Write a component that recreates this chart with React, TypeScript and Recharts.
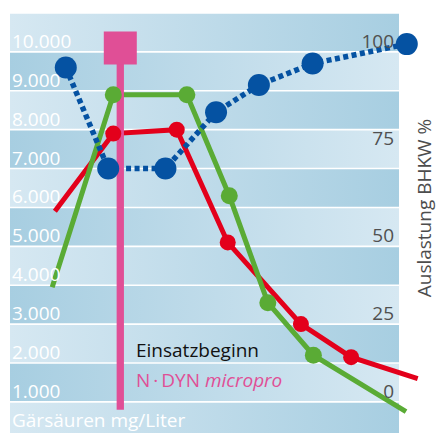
import React from 'react';
import {
  LineChart,
  Line,
  XAxis,
  YAxis,
  CartesianGrid,
  Customized,
} from 'recharts';

// ---------- data ----------
const leftTicks = [1000, 2000, 3000, 4000, 5000, 6000, 7000, 8000, 9000, 10000];
const leftTickLabels = ['1.000', '2.000', '3.000', '4.000', '5.000', '6.000', '7.000', '8.000', '9.000', '10.000'];
const rightTickValues = [1000, 3000, 5000, 7500, 10000];
const rightTickLabels = ['0', '25', '50', '75', '100'];
const gridValues = [1000, 2000, 3000, 4000, 5000, 6000, 7000, 8000, 9000, 10000, 11000];

const redSeries = [
  { x: 14.1, y: 5900, mark: false },
  { x: 29.1, y: 7900, mark: true },
  { x: 45.4, y: 8000, mark: true },
  { x: 58.5, y: 5100, mark: true },
  { x: 77.3, y: 3000, mark: true },
  { x: 90.2, y: 2150, mark: true },
  { x: 107.3, y: 1600, mark: false },
];
const greenSeries = [
  { x: 13.4, y: 3950, mark: false },
  { x: 29.1, y: 8900, mark: true },
  { x: 48.0, y: 8900, mark: true },
  { x: 58.9, y: 6300, mark: true },
  { x: 68.8, y: 3550, mark: true },
  { x: 80.5, y: 2200, mark: true },
  { x: 104.3, y: 750, mark: false },
];
const blueSeries = [
  { x: 16.9, y: 9600, mark: true },
  { x: 27.8, y: 7000, mark: true },
  { x: 42.5, y: 7000, mark: true },
  { x: 55.5, y: 8450, mark: true },
  { x: 66.5, y: 9150, mark: true },
  { x: 80.3, y: 9700, mark: true },
  { x: 104.5, y: 10200, mark: true },
];
const startSeries = [
  { x: 30.9, y: 800, mark: false },
  { x: 30.9, y: 10100, mark: true },
];
const xDomain = [0, 112];
const yDomain = [200, 11000];

// ---------- styles ----------
const FONT = '"Open Sans", sans-serif';
const RED = '#e3001b';
const GREEN = '#5aab35';
const BLUE = '#0552a2';
const PINK = '#e04f96';
const LIGHT = '#d6e8f2';
const DARK = '#a7cee1';

const makeDot = (r: number, color: string) => (props: any) => {
  const { cx, cy, payload, index } = props;
  if (!payload || !payload.mark || cx == null || cy == null) return <g key={`d${index}`} />;
  return <circle key={`d${index}`} cx={cx} cy={cy} r={r} fill={color} stroke="none" />;
};

const squareDot = (props: any) => {
  const { cx, cy, payload, index } = props;
  if (!payload || !payload.mark || cx == null || cy == null) return <g key={`s${index}`} />;
  const s = 33;
  return <rect key={`s${index}`} x={cx - s / 2} y={cy - s / 2} width={s} height={s} fill={PINK} />;
};

const LeftTick = (props: any) => {
  const { y, payload } = props;
  const i = leftTicks.indexOf(Number(payload && payload.value));
  return (
    <text x={12} y={y - 4} fill="#ffffff" fontSize={19} fontFamily={FONT} textAnchor="start">
      {i >= 0 ? leftTickLabels[i] : ''}
    </text>
  );
};

const RightTick = (props: any) => {
  const { y, payload } = props;
  const i = rightTickValues.indexOf(Number(payload && payload.value));
  return (
    <text x={394} y={y - 4} fill="#505050" fontSize={19} fontFamily={FONT} textAnchor="end">
      {i >= 0 ? rightTickLabels[i] : ''}
    </text>
  );
};

const Texts = () => (
  <g>
    <text x={12} y={427} fill="#ffffff" fontSize={19} fontFamily={FONT}>
      Gärsäuren mg/Liter
    </text>
    <text x={136} y={357} fill="#111111" fontSize={19} fontFamily={FONT}>
      Einsatzbeginn
    </text>
    <text x={136} y={387} fill={PINK} fontSize={19} fontFamily={FONT}>
      <tspan>N</tspan>
      <tspan dx={3}>·</tspan>
      <tspan dx={3}>DYN </tspan>
      <tspan fontStyle="italic">micropro</tspan>
    </text>
    <text
      x={424}
      y={208}
      transform="rotate(-90 424 208)"
      fill="#4d4d4d"
      fontSize={19}
      fontFamily={FONT}
      textAnchor="middle"
      dominantBaseline="central"
    >
      Auslastung BHKW %
    </text>
  </g>
);

export default function App() {
  return (
    <div style={{ position: 'absolute', left: 0, top: 0, width: 436, height: 433, background: '#ffffff' }}>
      <LineChart width={436} height={433} margin={{ top: 13, right: 0, bottom: 0, left: 0 }}>
        <defs>
          <linearGradient id="bandA" x1="0" y1="0" x2="1" y2="0">
            <stop offset="0%" stopColor={LIGHT} />
            <stop offset="100%" stopColor={DARK} />
          </linearGradient>
          <linearGradient id="bandB" x1="0" y1="0" x2="1" y2="0">
            <stop offset="0%" stopColor={DARK} />
            <stop offset="100%" stopColor={LIGHT} />
          </linearGradient>
        </defs>
        <CartesianGrid
          yAxisId="left"
          x={10}
          y={13}
          width={389}
          height={420}
          vertical={false}
          horizontalValues={gridValues}
          stroke="#ffffff"
          strokeWidth={1.6}
          strokeDasharray="0"
          horizontalFill={['url(#bandA)', 'url(#bandB)']}
          fillOpacity={1}
        />
        <XAxis type="number" dataKey="x" domain={xDomain} hide />
        <YAxis
          yAxisId="left"
          orientation="left"
          mirror
          domain={yDomain}
          ticks={leftTicks}
          interval={0}
          axisLine={false}
          tickLine={false}
          tick={(p: any) => <LeftTick {...p} />}
          width={60}
        />
        <YAxis
          yAxisId="right"
          orientation="right"
          mirror
          domain={yDomain}
          ticks={rightTickValues}
          interval={0}
          axisLine={false}
          tickLine={false}
          tick={(p: any) => <RightTick {...p} />}
          width={60}
        />
        <Line
          yAxisId="left"
          data={redSeries}
          dataKey="y"
          type="linear"
          stroke={RED}
          strokeWidth={5}
          dot={makeDot(8, RED)}
          activeDot={false}
          isAnimationActive={false}
        />
        <Line
          yAxisId="left"
          data={greenSeries}
          dataKey="y"
          type="linear"
          stroke={GREEN}
          strokeWidth={5}
          dot={makeDot(8.5, GREEN)}
          activeDot={false}
          isAnimationActive={false}
        />
        <Line
          yAxisId="right"
          data={blueSeries}
          dataKey="y"
          type="linear"
          stroke={BLUE}
          strokeWidth={5.5}
          strokeDasharray="5 3.5"
          dot={makeDot(11, BLUE)}
          activeDot={false}
          isAnimationActive={false}
        />
        <Line
          yAxisId="left"
          data={startSeries}
          dataKey="y"
          type="linear"
          stroke={PINK}
          strokeWidth={7.3}
          dot={squareDot}
          activeDot={false}
          isAnimationActive={false}
        />
        <Customized component={Texts} />
      </LineChart>
    </div>
  );
}
